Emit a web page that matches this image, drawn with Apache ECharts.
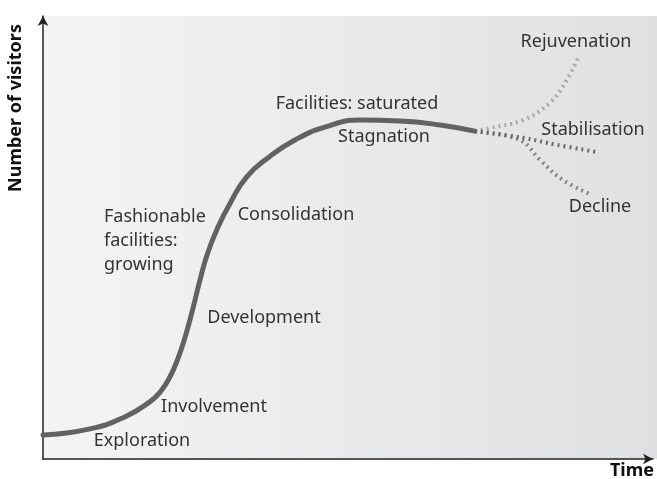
<!DOCTYPE html>
<html>
<head>
<meta charset="utf-8">
<script src="https://cdn.jsdelivr.net/npm/echarts@6/dist/echarts.min.js"></script>
<style>
  html, body { margin: 0; padding: 0; background: #fff; }
  #chart { width: 657px; height: 479px; }
</style>
</head>
<body>
<div id="chart"></div>
<script>
// time (0-100) / visitors (0-100)
const mainCurve = [
  [0, 5.4], [7.7, 6.8], [13.4, 9.5], [17.5, 12.9], [19.2, 15.1], [20.8, 18.5],
  [22.1, 22.6], [23.4, 28.0], [24.6, 34.1], [25.7, 40.2], [27.0, 46.5],
  [28.7, 52.4], [30.7, 57.8], [33.4, 63.7], [36.9, 68.0], [41.3, 72.0],
  [46.2, 74.9], [52.0, 76.5], [58.5, 76.3], [65.1, 75.4], [70.8, 74.0]
];
const rejuvenation = [[70.8, 74.0], [73.3, 74.7], [78.7, 76.5], [83.1, 80.4], [85.9, 85.6], [87.7, 90.5]];
const stabilisation = [[70.8, 74.0], [78.7, 72.5], [84.3, 70.9], [90.8, 69.3]];
const decline = [[70.8, 74.0], [78.2, 72.0], [81.5, 67.5], [85.2, 63.0], [90.0, 59.6]];

const xName = 'Time';
const yName = 'Number of visitors';

const font = '"Noto Sans", "Open Sans", sans-serif';
const txtColor = '#333';

function label(text, x, y, align) {
  return {
    type: 'text', x: x, y: y, z: 5,
    style: {
      text: text, fill: txtColor, font: '18px ' + font,
      align: align || 'center', verticalAlign: 'middle', lineHeight: 24
    }
  };
}

const chart = echarts.init(document.getElementById('chart'));
chart.setOption({
  animation: false,
  grid: { left: 43, right: 4, top: 16, bottom: 20 },
  xAxis: {
    type: 'value', min: 0, max: 100,
    axisLine: { show: true, symbol: ['none', 'arrow'], symbolSize: [8, 10], lineStyle: { color: '#222', width: 1.5 } },
    axisTick: { show: false }, axisLabel: { show: false }, splitLine: { show: false }
  },
  yAxis: {
    type: 'value', min: 0, max: 100,
    axisLine: { show: true, symbol: ['none', 'arrow'], symbolSize: [8, 10], lineStyle: { color: '#222', width: 1.5 } },
    axisTick: { show: false }, axisLabel: { show: false }, splitLine: { show: false }
  },
  graphic: [
    {
      type: 'rect', z: -10, silent: true,
      shape: { x: 43, y: 16, width: 614, height: 443 },
      style: {
        fill: new echarts.graphic.LinearGradient(0, 0, 1, 0, [
          { offset: 0, color: '#f4f4f5' },
          { offset: 1, color: '#dfe0e2' }
        ])
      }
    },
    {
      type: 'text', x: 16, y: 108, rotation: Math.PI / 2,
      style: { text: yName, fill: '#111', font: 'bold 18px ' + font, align: 'center', verticalAlign: 'middle' }
    },
    {
      type: 'text', x: 632, y: 471,
      style: { text: xName, fill: '#111', font: 'bold 18px ' + font, align: 'center', verticalAlign: 'middle' }
    },
    label('Rejuvenation', 576, 42),
    label('Stabilisation', 593, 130),
    label('Decline', 600, 207),
    label('Facilities: saturated', 357, 104),
    label('Stagnation', 384, 137),
    label('Consolidation', 296, 215),
    label('Fashionable\nfacilities:\ngrowing', 104, 241, 'left'),
    label('Development', 264, 318),
    label('Involvement', 214, 407),
    label('Exploration', 142, 441)
  ],
  series: [
    {
      type: 'line', data: rejuvenation, showSymbol: false, smooth: 0.4,
      lineStyle: { color: '#a9a9aa', width: 4, type: [2, 4] }
    },
    {
      type: 'line', data: decline, showSymbol: false, smooth: 0.4,
      lineStyle: { color: '#858586', width: 4, type: [2, 4] }
    },
    {
      type: 'line', data: stabilisation, showSymbol: false, smooth: 0.4,
      lineStyle: { color: '#6a6a6b', width: 4, type: [2, 4] }
    },
    {
      type: 'line', data: mainCurve, showSymbol: false, smooth: 0.5,
      lineStyle: { color: '#626263', width: 5, cap: 'round' }
    }
  ]
});
</script>
</body>
</html>
